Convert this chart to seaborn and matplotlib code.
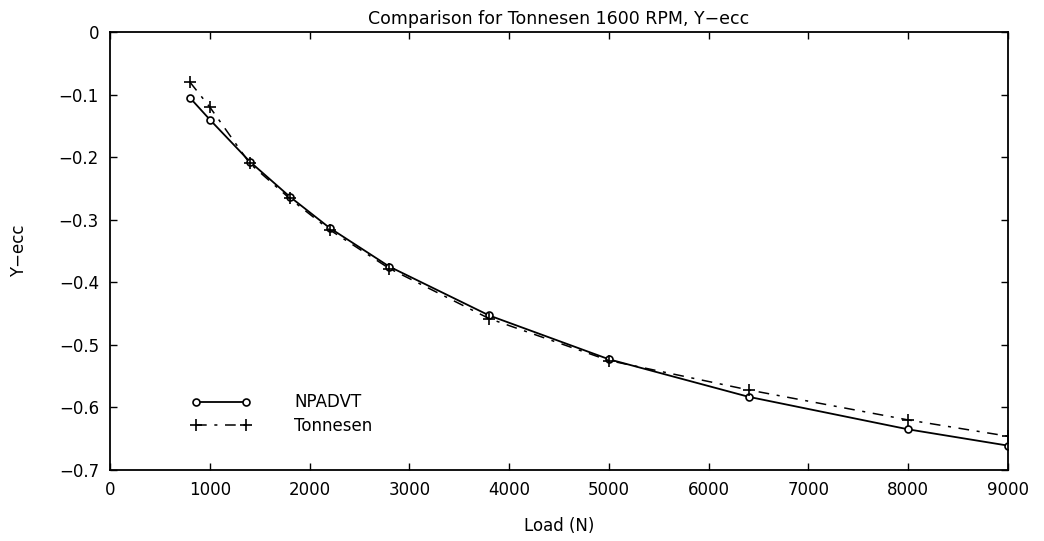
import matplotlib
matplotlib.use("Agg")
import matplotlib.pyplot as plt
import seaborn as sns
import pandas as pd

load = [800, 1000, 1400, 1800, 2200, 2800, 3800, 5000, 6400, 8000, 9000]
npadvt = [-0.105, -0.140, -0.207, -0.263, -0.313, -0.375, -0.453, -0.523, -0.583, -0.635, -0.661]
tonnesen = [-0.080, -0.120, -0.210, -0.266, -0.316, -0.378, -0.458, -0.525, -0.572, -0.620, -0.646]
xticks = [0, 1000, 2000, 3000, 4000, 5000, 6000, 7000, 8000, 9000]
yticks = [0, -0.1, -0.2, -0.3, -0.4, -0.5, -0.6, -0.7]
ytick_labels = ["0", "\u22120.1", "\u22120.2", "\u22120.3", "\u22120.4", "\u22120.5", "\u22120.6", "\u22120.7"]

sns.set_theme(style="ticks")
plt.rcParams['font.family'] = ['DejaVu Sans']
plt.rcParams['text.color'] = 'black'
plt.rcParams['axes.labelcolor'] = 'black'

df_n = pd.DataFrame({"Load": load, "Y": npadvt})
df_t = pd.DataFrame({"Load": load, "Y": tonnesen})

fig = plt.figure(figsize=(10.44, 5.41), dpi=100)
ax = fig.add_axes([0.1054, 0.1312, 0.8601, 0.8097])

sns.lineplot(data=df_n, x="Load", y="Y", ax=ax, color="black", lw=1.3,
             marker="o", markersize=5, markerfacecolor="white",
             markeredgecolor="black", markeredgewidth=1.2, label="NPADVT")
sns.lineplot(data=df_t, x="Load", y="Y", ax=ax, color="black", lw=1.1,
             linestyle=(0, (7, 5, 2, 5)), marker="+", markersize=8,
             markeredgecolor="black", markeredgewidth=1.2, label="Tonnesen")

ax.set_xlim(0, 9000)
ax.set_ylim(-0.7, 0)
ax.set_xticks(xticks)
ax.set_xticklabels([str(v) for v in xticks], fontsize=12)
ax.set_yticks(yticks)
ax.set_yticklabels(ytick_labels, fontsize=12)
ax.tick_params(direction="in", top=True, right=True, length=5, width=1,
               colors="black", pad=8)
for s in ax.spines.values():
    s.set_linewidth(1.3)
    s.set_color("black")

ax.set_xlabel("Load (N)", fontsize=12, labelpad=13)
ax.set_ylabel("Y\u2212ecc", fontsize=12, labelpad=22)
ax.set_title("Comparison for Tonnesen 1600 RPM, Y\u2212ecc", fontsize=12.5, pad=6)

leg = ax.legend(loc="lower left", bbox_to_anchor=(0.073, 0.045), frameon=False,
                numpoints=2, handlelength=3.6, handletextpad=2.6,
                fontsize=12, labelspacing=0.35)

fig.savefig("out.png", dpi=100)
